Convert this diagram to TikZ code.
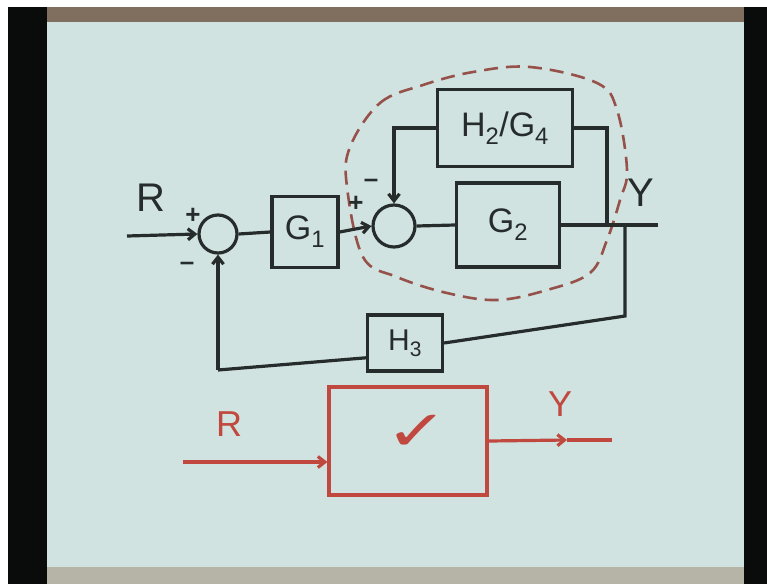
\documentclass[tikz,border=0pt]{standalone}
\usepackage{fontspec}
\setmainfont{Liberation Sans}
\newfontfamily\symfont{DejaVu Sans}
\usepackage{tikz}
\usetikzlibrary{arrows.meta,positioning,calc}
\definecolor{bpaper}{RGB}{208,227,224}
\definecolor{bink}{RGB}{38,44,44}
\definecolor{bred}{RGB}{192,72,62}
\definecolor{bdash}{RGB}{150,82,74}
\definecolor{bframe}{RGB}{10,12,12}
\definecolor{bbrown}{RGB}{128,110,94}
\definecolor{bfloor}{RGB}{182,180,166}
\tikzset{
  blk/.style={draw=bink, line width=3.2pt, inner sep=0pt, text=bink, font=\fontsize{34}{34}\selectfont},
  sumc/.style={circle, draw=bink, line width=3.2pt, inner sep=0pt},
  sig/.style={draw=bink, line width=3.2pt},
  sigarr/.style={sig, -{Straight Barb[length=7pt,width=11pt]}},
  lbl/.style={text=bink, font=\fontsize{40}{40}\selectfont},
  sgn/.style={text=bink, font=\fontsize{26}{26}\selectfont\bfseries},
  redsig/.style={draw=bred, line width=3.2pt},
  redarr/.style={redsig, -{Straight Barb[length=7pt,width=11pt]}},
}
\begin{document}
\begin{tikzpicture}[x=1pt,y=-1pt]
  \useasboundingbox (0,0) rectangle (767,584);
  % board and frame
  \fill[white] (0,0) rectangle (767,584);
  \fill[bframe] (8,7) rectangle (767,584);
  \fill[bbrown] (47,7) rectangle (744,22);
  \fill[bpaper] (47,22) rectangle (744,567);
  \fill[bfloor] (47,567) rectangle (744,584);
  % inner loop boundary
  \draw[bdash, line width=2.6pt, dash pattern=on 14pt off 8pt]
    plot[smooth cycle, tension=0.6] coordinates {(350,147) (380,103) (423,85) (473,72) (530,67) (597,83) (617,110) (627,170) (620,200) (607,240) (590,273) (547,290) (497,300) (447,293) (397,277) (363,257) (347,187)};
  % blocks
  \node[sumc, minimum size=38pt] (sum1) at (218,234) {};
  \node[blk, minimum width=66pt, minimum height=71pt] (g1) at (305,232) {G\textsubscript{1}};
  \node[sumc, minimum size=42pt] (sum2) at (394,226) {};
  \node[blk, minimum width=103pt, minimum height=84pt] (g2) at (508,225) {G\textsubscript{2}};
  \node[blk, minimum width=135pt, minimum height=77pt] (hg) at (505,128) {H\textsubscript{2}/G\textsubscript{4}};
  \node[blk, minimum width=75pt, minimum height=56pt, font=\fontsize{30}{30}\selectfont] (h3) at (405,343) {H\textsubscript{3}};
  % free ends and pick-off points
  \coordinate (rin) at (127,236);
  \coordinate (pk1) at (607,225);
  \coordinate (pk2) at (625,225);
  \coordinate (yout) at (658,225);
  \coordinate (fbr) at (625,316);
  \coordinate (fbl) at (218,370);
  % labels
  \node[lbl] (rlab) at (151,198) {R};
  \node[lbl] (ylab) at (641,193) {Y};
  \node[sgn] (p1) at (193,216) {+};
  \node[sgn] (m1) at (187,266) {--};
  \node[sgn] (p2) at (356,204) {+};
  \node[sgn] (m2) at (371,183) {--};
  % connectors
  \draw[sigarr] (rin) -- (sum1.west);
  \draw[sig] (sum1.east) -- (g1.west);
  \draw[sigarr] (g1.east) -- (sum2.west);
  \draw[sig] (sum2.east) -- (g2.west);
  \draw[sig] (g2.east) -- (yout);
  \draw[sigarr] (hg.west) -| (sum2.north);
  \draw[sig] (hg.east) -| (pk1);
  \draw[sig] (pk2) -- (fbr) -- (h3.east);
  \draw[sig] ($(h3.south west)!0.25!(h3.north west)$) -- (fbl);
  \draw[sigarr] (fbl) -- (sum1.south);
  % reduced system
  \node[draw=bred, line width=3.2pt, minimum width=158pt, minimum height=108pt] (sys) at (408,441) {};
  \node[text=bred, font=\symfont\fontsize{56}{56}\selectfont, xscale=1.35] (tick) at (417,433) {✓};
  \node[text=bred, font=\fontsize{36}{36}\selectfont] (rlab2) at (229,424) {R};
  \node[text=bred, font=\fontsize{36}{36}\selectfont] (ylab2) at (560,404) {Y};
  \coordinate (rin2) at (183,462);
  \coordinate (ymid) at (567,440);
  \coordinate (yend) at (612,440);
  \draw[redarr] (rin2) -- (rin2 -| sys.west);
  \draw[redarr] (sys.east) -- (ymid);
  \draw[redsig] (ymid) -- (yend);
\end{tikzpicture}
\end{document}
